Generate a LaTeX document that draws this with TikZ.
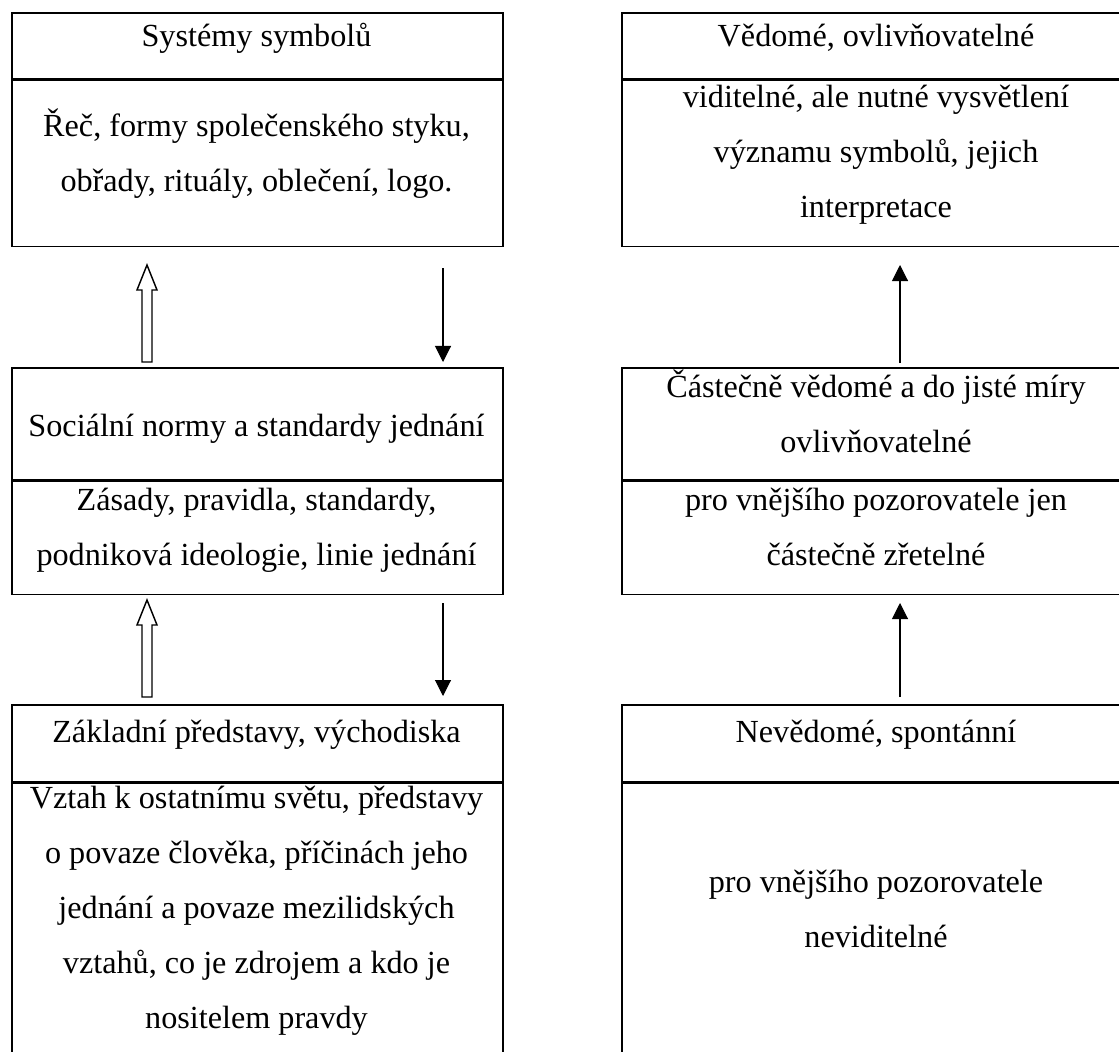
\documentclass[tikz,border=0pt]{standalone}
\usepackage{fontspec}
\setmainfont{Liberation Serif}
\usepackage{tikz}
\usetikzlibrary{arrows.meta}
\usetikzlibrary{positioning}

\begin{document}
\begin{tikzpicture}[x=0.025cm,y=-0.025cm,>={Triangle[width=0.4cm,length=0.4cm]},semithick]
	\tikzstyle{cell}=[draw, rectangle, line width=1.1pt, inner sep=0pt]
	\tikzstyle{txt}=[anchor=base, inner sep=0pt, align=center, font=\fontsize{22.9}{39.1}\selectfont]
	\tikzstyle{thin}=[->, line width=0.75pt]
	\tikzstyle{hollow}=[draw, fill=white, line width=1pt]
	\useasboundingbox (0,0) rectangle (1119,1052);
	\clip (0,0) rectangle (1119,1052);

	% left column
	\node[cell, anchor=north west, minimum width=12.275cm, minimum height=1.65cm] (SymH) at (11,12) {};
	\node[cell, minimum width=12.275cm, minimum height=4.15cm] (SymB) [below right=0pt and 0pt of SymH.south west] {};
	\node[cell, anchor=north west, minimum width=12.275cm, minimum height=2.8cm] (NorH) at (11,367) {};
	\node[cell, minimum width=12.275cm, minimum height=2.825cm] (NorB) [below right=0pt and 0pt of NorH.south west] {};
	\node[cell, anchor=north west, minimum width=12.275cm, minimum height=1.925cm] (ZakH) at (11,704) {};
	\node[cell, minimum width=12.275cm, minimum height=7.975cm] (ZakB) [below right=0pt and 0pt of ZakH.south west] {};

	% right column
	\node[cell, anchor=north west, minimum width=12.75cm, minimum height=1.65cm] (VedH) at (621,12) {};
	\node[cell, minimum width=12.75cm, minimum height=4.15cm] (VedB) [below right=0pt and 0pt of VedH.south west] {};
	\node[cell, anchor=north west, minimum width=12.75cm, minimum height=2.8cm] (CasH) at (621,367) {};
	\node[cell, minimum width=12.75cm, minimum height=2.825cm] (CasB) [below right=0pt and 0pt of CasH.south west] {};
	\node[cell, anchor=north west, minimum width=12.75cm, minimum height=1.925cm] (NevH) at (621,704) {};
	\node[cell, minimum width=12.75cm, minimum height=7.975cm] (NevB) [below right=0pt and 0pt of NevH.south west] {};

	% texts (base = last line)
	\node[txt] (SymHt) at (256.5,46.7) {Systémy symbolů};
	\node[txt] (SymBt) at (256.5,191.7) {Řeč, formy společenského styku,\\obřady, rituály, oblečení, logo.};
	\node[txt] (NorHt) at (256.5,436) {Sociální normy a standardy jednání};
	\node[txt] (NorBt) at (256.5,565) {Zásady, pravidla, standardy,\\podniková ideologie, linie jednání};
	\node[txt] (ZakHt) at (256.5,742) {Základní představy, východiska};
	\node[txt] (ZakBt) at (256.5,1028) {Vztah k ostatnímu světu, představy\\o povaze člověka, příčinách jeho\\jednání a povaze mezilidských\\vztahů, co je zdrojem a kdo je\\nositelem pravdy};
	\node[txt] (VedHt) at (876,46.7) {Vědomé, ovlivňovatelné};
	\node[txt] (VedBt) at (876,217) {viditelné, ale nutné vysvětlení\\významu symbolů, jejich\\interpretace};
	\node[txt] (CasHt) at (876,452) {Částečně vědomé a do jisté míry\\ovlivňovatelné};
	\node[txt] (CasBt) at (876,565) {pro vnějšího pozorovatele jen\\částečně zřetelné};
	\node[txt] (NevHt) at (876,742) {Nevědomé, spontánní};
	\node[txt] (NevBt) at (876,947) {pro vnějšího pozorovatele\\neviditelné};

	% arrows
	\coordinate (UpL1) at (147,362);
	\coordinate (UpL2) at (147,697);
	\coordinate (DnA1) at (443,268);
	\coordinate (DnA2) at (443,362);
	\coordinate (DnB1) at (443,603);
	\coordinate (DnB2) at (443,696);
	\coordinate (UpA1) at (900,363);
	\coordinate (UpA2) at (900,265);
	\coordinate (UpB1) at (900,697);
	\coordinate (UpB2) at (900,603);

	\draw[hollow] (UpL1) ++(-5,0) -- ++(0,-72) -- ++(-5,0) -- ++(10,-25) -- ++(10,25) -- ++(-5,0) -- ++(0,72) -- cycle;
	\draw[hollow] (UpL2) ++(-5,0) -- ++(0,-72) -- ++(-5,0) -- ++(10,-25) -- ++(10,25) -- ++(-5,0) -- ++(0,72) -- cycle;
	\draw[thin] (DnA1) -- (DnA2);
	\draw[thin] (DnB1) -- (DnB2);
	\draw[thin] (UpA1) -- (UpA2);
	\draw[thin] (UpB1) -- (UpB2);

\end{tikzpicture}
\end{document}
